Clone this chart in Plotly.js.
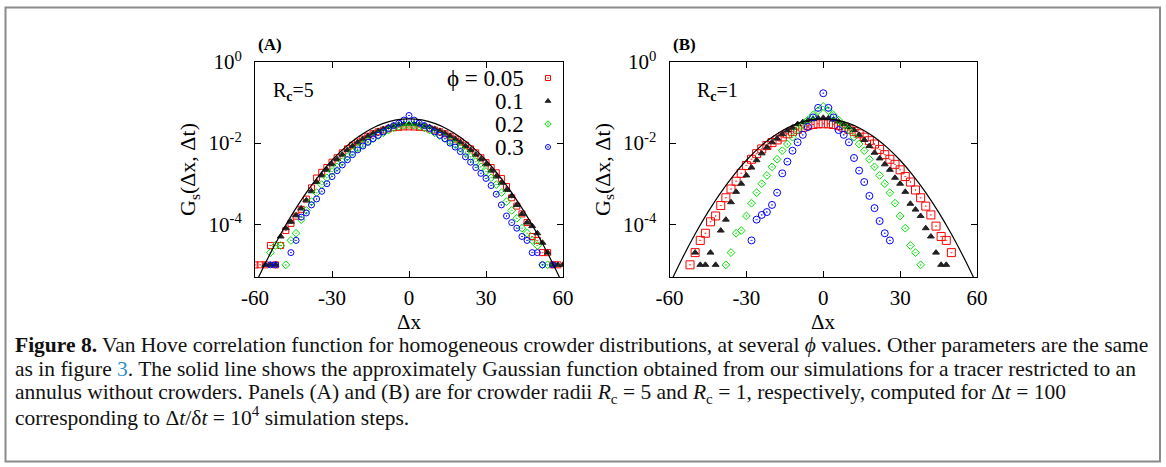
<!DOCTYPE html>
<html><head><meta charset="utf-8">
<script src="https://cdn.plot.ly/plotly-3.0.1.min.js"></script>
<style>html,body{margin:0;padding:0;background:#fff;}#chart{width:1166px;height:467px;}</style>
</head><body><div id="chart"></div>
<script>
// ---------- data ----------
const dx = [-60,-58,-56,-54,-52,-50,-48,-46,-44,-42,-40,-38,-36,-34,-32,-30,-28,-26,-24,-22,-20,-18,-16,-14,-12,-10,-8,-6,-4,-2,0,2,4,6,8,10,12,14,16,18,20,22,24,26,28,30,32,34,36,38,40,42,44,46,48,50,52,54,56,58,60];

// Panel A (Rc = 5)
const gsA_005 = [1e-5,1e-5,1e-5,3e-5,1e-5,3e-5,7e-5,1.05e-4,1.58e-4,2.34e-4,
  4.17e-4,7.9e-4,1.38e-3,1.91e-3,2.51e-3,3.39e-3,4.37e-3,5.75e-3,7.24e-3,8.9e-3,
  1.07e-2,1.26e-2,1.48e-2,1.7e-2,1.9e-2,2.09e-2,2.24e-2,2.4e-2,2.45e-2,2.51e-2,
  2.51e-2,2.5e-2,2.45e-2,2.4e-2,2.24e-2,2.09e-2,1.9e-2,1.7e-2,1.48e-2,1.26e-2,
  1.07e-2,8.9e-3,7.2e-3,5.75e-3,4.37e-3,3.3e-3,2.5e-3,1.86e-3,1.35e-3,8.5e-4,
  4.5e-4,2.8e-4,1.8e-4,1.1e-4,5e-5,4e-5,2e-5,2e-5,1e-5,1e-5,null];
const gsA_01 = [null,null,1e-5,1e-5,1e-5,5e-5,8e-5,1.15e-4,1.66e-4,2.45e-4,
  3.9e-4,6.5e-4,1.1e-3,1.6e-3,2.2e-3,3.0e-3,4.0e-3,5.2e-3,6.8e-3,8.5e-3,
  1.05e-2,1.26e-2,1.5e-2,1.74e-2,2.0e-2,2.24e-2,2.5e-2,2.7e-2,2.88e-2,2.95e-2,
  3.0e-2,2.95e-2,2.88e-2,2.7e-2,2.5e-2,2.24e-2,2.0e-2,1.74e-2,1.5e-2,1.26e-2,
  1.05e-2,8.5e-3,6.8e-3,5.2e-3,4.0e-3,3.0e-3,2.1e-3,1.5e-3,1.05e-3,7e-4,
  5e-4,3e-4,1.8e-4,1.1e-4,9e-5,6e-5,3.5e-5,2e-5,1e-5,1e-5,1e-5];
const gsA_02 = [null,null,null,2e-5,3e-5,3e-5,1e-5,4e-5,6e-5,1.3e-4,
  2.2e-4,3.6e-4,6e-4,9.5e-4,1.4e-3,2.0e-3,2.6e-3,3.5e-3,4.6e-3,6.0e-3,
  7.6e-3,9.2e-3,1.1e-2,1.3e-2,1.55e-2,1.8e-2,2.1e-2,2.4e-2,2.6e-2,2.75e-2,
  2.82e-2,2.75e-2,2.6e-2,2.4e-2,2.1e-2,1.8e-2,1.55e-2,1.3e-2,1.1e-2,9.2e-3,
  7.6e-3,6.0e-3,4.6e-3,3.5e-3,2.6e-3,2.0e-3,1.4e-3,9.5e-4,6e-4,3.6e-4,
  2.2e-4,1.4e-4,8e-5,6e-5,4e-5,3e-5,1e-5,1e-5,null,null,null];
const gsA_03 = [null,null,null,1e-5,1e-5,null,null,2e-5,4e-5,1.5e-4,
  1.9e-4,3.0e-4,4.2e-4,6.5e-4,1.0e-3,1.5e-3,2.1e-3,2.9e-3,3.9e-3,5.2e-3,
  6.8e-3,8.5e-3,1.05e-2,1.28e-2,1.55e-2,1.9e-2,2.3e-2,2.7e-2,3.1e-2,3.7e-2,
  4.8e-2,3.7e-2,3.1e-2,2.7e-2,2.3e-2,1.9e-2,1.55e-2,1.28e-2,1.0e-2,8.0e-3,
  6.2e-3,4.6e-3,3.4e-3,2.5e-3,1.8e-3,1.35e-3,9e-4,5.5e-4,3e-4,1.6e-4,
  1.1e-4,8e-5,5e-5,4e-5,2e-5,2e-5,1e-5,null,1e-5,null,null];

// Panel B (Rc = 1)
const gsB_005 = [null,null,null,null,1e-5,2e-5,4e-5,6e-5,1.15e-4,1.6e-4,
  2.9e-4,4.5e-4,7.4e-4,1.15e-3,1.8e-3,2.8e-3,4.0e-3,5.5e-3,7.2e-3,8.7e-3,
  1.03e-2,1.2e-2,1.42e-2,1.7e-2,1.95e-2,2.2e-2,2.45e-2,2.7e-2,2.88e-2,3.0e-2,
  3.0e-2,3.0e-2,2.88e-2,2.7e-2,2.45e-2,2.2e-2,1.95e-2,1.7e-2,1.4e-2,1.15e-2,
  9.5e-3,7e-3,5.2e-3,4e-3,3e-3,2.2e-3,1.5e-3,1.1e-3,7e-4,4.5e-4,
  2.8e-4,1.7e-4,9e-5,5e-5,4e-5,2e-5,null,null,null,null,null];
const gsB_01 = [null,null,null,null,null,2e-5,1e-5,1e-5,2e-5,1e-5,
  7e-5,1.3e-4,3.5e-4,6.3e-4,1.0e-3,1.6e-3,2.5e-3,3.8e-3,5.6e-3,7.9e-3,
  1.05e-2,1.3e-2,1.66e-2,2.05e-2,2.4e-2,2.95e-2,3.3e-2,3.6e-2,3.9e-2,4.1e-2,
  4.2e-2,4.1e-2,3.8e-2,3.4e-2,2.95e-2,2.5e-2,2.1e-2,1.6e-2,1.2e-2,8.5e-3,
  5.8e-3,4.2e-3,3.0e-3,2.2e-3,1.4e-3,1.0e-3,6.3e-4,3.2e-4,2.3e-4,1.6e-4,
  8e-5,5e-5,2e-5,1e-5,1e-5,null,null,null,null,null,null];
const gsB_02 = [null,null,null,null,null,null,null,null,null,null,
  null,1e-5,2e-5,6e-5,7e-5,1.6e-4,3.3e-4,6e-4,1.0e-3,1.6e-3,
  2.6e-3,4e-3,6.5e-3,9.5e-3,1.4e-2,2.1e-2,2.8e-2,3.7e-2,4.9e-2,6.3e-2,
  8e-2,6.3e-2,4.9e-2,3.7e-2,2.8e-2,2.1e-2,1.4e-2,9.5e-3,6.5e-3,4e-3,
  2.6e-3,1.6e-3,1.0e-3,6e-4,3.3e-4,1.6e-4,8e-5,3e-5,2e-5,1e-5,
  null,null,null,null,null,null,null,null,null,null,null];
const gsB_03 = [null,null,null,null,null,null,null,null,null,null,
  null,null,null,null,null,null,4e-5,1.3e-4,1.7e-4,2e-4,
  3e-4,6e-4,1.8e-3,3.5e-3,6.5e-3,1.05e-2,1.6e-2,2.5e-2,4.3e-2,7.4e-2,
  1.7e-1,7.4e-2,4.3e-2,2.1e-2,1.6e-2,1.05e-2,4.3e-3,2.1e-3,1.1e-3,5e-4,
  2.5e-4,1.2e-4,6e-5,4e-5,null,null,null,null,null,null,
  null,null,null,null,null,null,null,null,null,null,null];

// Solid line: free-annulus reference (same curve in both panels)
const gaussX = [-60,-55,-50,-45,-40,-35,-30,-25,-20,-15,-10,-5,0,5,10,15,20,25,30,35,40,45,50,55,60];
const gaussG = [3.24e-6,1.45e-5,5.74e-5,1.99e-4,6.05e-4,1.61e-3,3.78e-3,7.76e-3,1.40e-2,2.21e-2,3.06e-2,3.73e-2,3.98e-2,3.73e-2,3.06e-2,2.21e-2,1.40e-2,7.76e-3,3.78e-3,1.61e-3,6.05e-4,1.99e-4,5.74e-5,1.45e-5,3.24e-6];

const phiLabels = ['ϕ = 0.05','0.1','0.2','0.3'];
const legendRows = [0,1,2,3];
const xTickVals = [-60,-30,0,30,60];
const xTickText = ['-60','-30','0','30','60'];
const yTickVals = [1,1e-2,1e-4];
const yTickText = ['10<sup>0</sup>','10<sup>-2</sup>','10<sup>-4</sup>'];

// ---------- styling ----------
const W = 1166, H = 467;
const PX = v => v / W, PY = v => 1 - v / H;
const serif = 'Liberation Serif, Times New Roman, serif';
const styles = [
  {symbol:'square-open-dot', color:'#ff0000', sA:6, sB:8},
  {symbol:'triangle-up', color:'#222222', sA:6, sB:6},
  {symbol:'diamond-open-dot', color:'#00e000', sA:6, sB:6},
  {symbol:'circle-open-dot', color:'#0000ff', sA:6, sB:7}
];
const seriesA = [gsA_005, gsA_01, gsA_02, gsA_03];
const seriesB = [gsB_005, gsB_01, gsB_02, gsB_03];

const traces = [];
function addPanel(series, xa, ya, key) {
  series.forEach((ys, i) => {
    const st = styles[i];
    traces.push({x: dx, y: ys, xaxis: xa, yaxis: ya, type: 'scatter', mode: 'markers',
      name: phiLabels[i], showlegend: false, cliponaxis: true,
      marker: {symbol: st.symbol, color: st.color, size: st[key], line: {color: st.color, width: 1}}});
  });
  traces.push({x: gaussX, y: gaussG, xaxis: xa, yaxis: ya, type: 'scatter', mode: 'lines',
    line: {color: '#000', width: 1.2, shape: 'spline'}, showlegend: false});
}
addPanel(seriesA, 'x', 'y', 'sA');
addPanel(seriesB, 'x2', 'y2', 'sB');
// legend keys
legendRows.forEach((r, i) => {
  const st = styles[i];
  traces.push({x: [0], y: [r], xaxis: 'x3', yaxis: 'y3', type: 'scatter', mode: 'markers', showlegend: false,
    marker: {symbol: st.symbol, color: st.color, size: 5, line: {color: st.color, width: 1}}});
});

const tickFont = {family: serif, size: 21, color: '#000'};
function xAxis(dom, anchor) {
  return {domain: dom, anchor: anchor, range: [-60, 60], tickmode: 'array', tickvals: xTickVals, ticktext: xTickText,
    ticks: 'inside', ticklen: 6, tickcolor: '#000', mirror: 'ticks', showline: true, linecolor: '#000', linewidth: 1,
    showgrid: false, zeroline: false, tickfont: tickFont, ticklabelstandoff: 2, automargin: false};
}
function yAxis(dom, anchor) {
  return {domain: dom, anchor: anchor, type: 'log', range: [-5.3, 0], tickmode: 'array', tickvals: yTickVals, ticktext: yTickText,
    ticks: 'inside', ticklen: 6, tickcolor: '#000', mirror: 'ticks', showline: true, linecolor: '#000', linewidth: 1,
    showgrid: false, zeroline: false, tickfont: tickFont, ticklabelstandoff: 8, automargin: false,
    title: {text: 'G<sub>s</sub>(Δx, Δt)', font: {family: serif, size: 22, color: '#000'}, standoff: 6}};
}

const capFont = {family: serif, size: 21.5, color: '#111'};
const capLines = [
  '<b>Figure 8.</b> Van Hove correlation function for homogeneous crowder distributions, at several <i>ϕ</i> values. Other parameters are the same',
  'as in figure <span style="color:#2f8fc8">3</span>. The solid line shows the approximately Gaussian function obtained from our simulations for a tracer restricted to an',
  'annulus without crowders. Panels (A) and (B) are for crowder radii <i>R</i><sub>c</sub> = 5 and <i>R</i><sub>c</sub> = 1, respectively, computed for Δ<i>t</i> = 100',
  'corresponding to Δ<i>t</i>/δ<i>t</i> = 10<sup>4</sup> simulation steps.'
];
const capY = [345, 369, 393, 416];

const annotations = [
  {text: '<b>(A)</b>', x: PX(256), y: PY(44), xanchor: 'left', yanchor: 'middle', font: {family: serif, size: 17, color: '#000'}},
  {text: '<b>(B)</b>', x: PX(671), y: PY(44), xanchor: 'left', yanchor: 'middle', font: {family: serif, size: 17, color: '#000'}},
  {text: 'R<sub><b>c</b></sub>=5', x: PX(271), y: PY(92), xanchor: 'left', yanchor: 'middle', font: {family: serif, size: 20, color: '#000'}},
  {text: 'R<sub><b>c</b></sub>=1', x: PX(695), y: PY(92), xanchor: 'left', yanchor: 'middle', font: {family: serif, size: 20, color: '#000'}},
  {text: 'Δx', x: PX(409), y: PY(322), xanchor: 'center', yanchor: 'middle', font: {family: serif, size: 21, color: '#000'}},
  {text: 'Δx', x: PX(823), y: PY(322), xanchor: 'center', yanchor: 'middle', font: {family: serif, size: 21, color: '#000'}}
];
const legY = [78, 101.5, 124, 147.5];
phiLabels.forEach((t, i) => annotations.push({text: t, x: PX(526), y: PY(legY[i]), xanchor: 'right', yanchor: 'middle',
  font: {family: serif, size: 23, color: '#000'}}));
capLines.forEach((t, i) => annotations.push({text: t, x: PX(13), y: PY(capY[i]), xanchor: 'left', yanchor: 'middle', align: 'left',
  font: capFont}));
annotations.forEach(a => { a.xref = 'paper'; a.yref = 'paper'; a.showarrow = false; });

const layout = {
  width: W, height: H, margin: {l: 0, r: 0, t: 0, b: 0}, paper_bgcolor: '#fff', plot_bgcolor: '#fff', showlegend: false,
  xaxis: xAxis([PX(255), PX(563)], 'y'),
  yaxis: yAxis([PY(277), PY(62)], 'x'),
  xaxis2: xAxis([PX(669.5), PX(977)], 'y2'),
  yaxis2: yAxis([PY(277), PY(62)], 'x2'),
  xaxis3: {domain: [PX(540), PX(556)], anchor: 'y3', range: [-1, 1], visible: false, fixedrange: true},
  yaxis3: {domain: [PY(158.5), PY(66.5)], anchor: 'x3', range: [3.5, -0.5], visible: false, fixedrange: true},
  annotations: annotations,
  shapes: [{type: 'rect', xref: 'paper', yref: 'paper', x0: PX(5.5), x1: PX(1160), y0: PY(461.5), y1: PY(7.5),
    line: {color: '#8a8a8a', width: 2}}]
};
Plotly.newPlot('chart', traces, layout, {displayModeBar: false, staticPlot: true});
</script></body></html>
